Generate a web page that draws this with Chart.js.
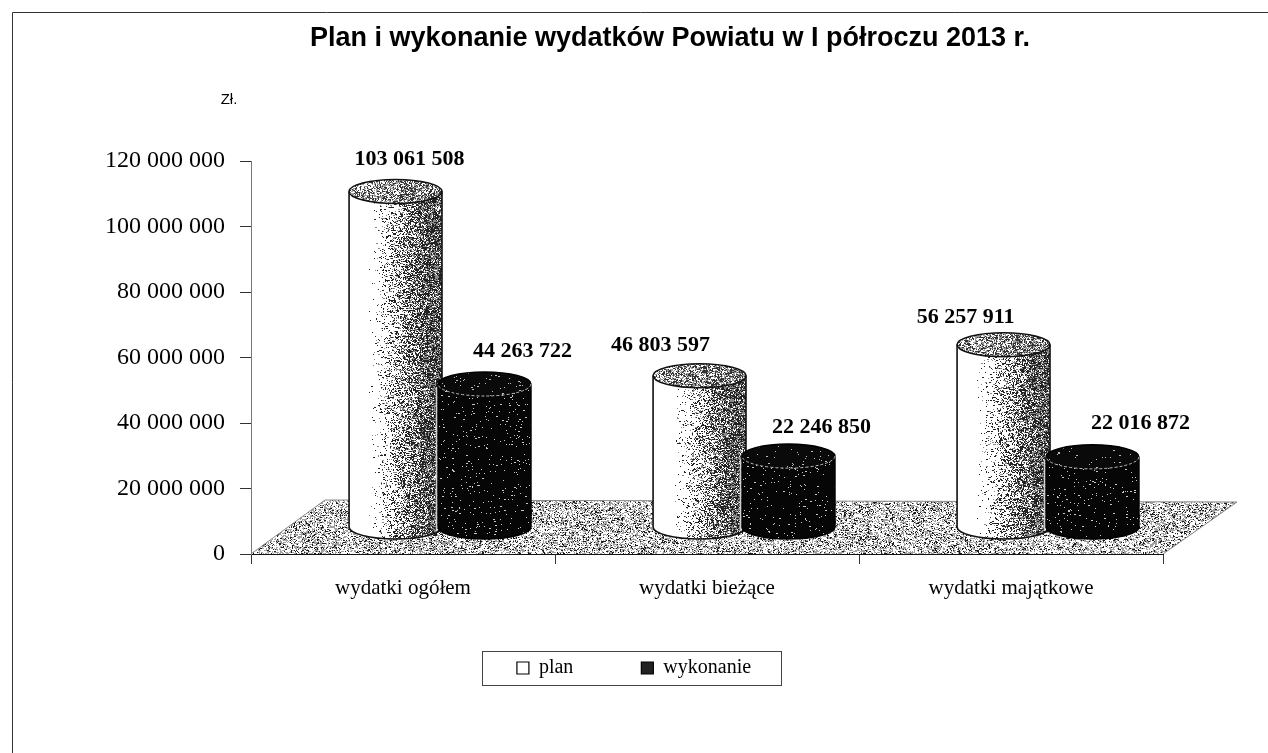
<!DOCTYPE html>
<html lang="pl">
<head>
    <meta charset="UTF-8">
    <title>Plan i wykonanie wydatków Powiatu w I półroczu 2013 r.</title>
    <script src="https://cdn.jsdelivr.net/npm/chart.js@4"></script>
    <style>
        html, body { margin: 0; padding: 0; background: #fff; overflow: hidden; }
        canvas { display: block; }
    </style>
</head>
<body>
    <canvas id="myChart" width="1268" height="753"></canvas>

    <script>
        const categories = ['wydatki ogółem', 'wydatki bieżące', 'wydatki majątkowe'];
        const planValues = [103061508, 46803597, 56257911];
        const wykonanieValues = [44263722, 22246850, 22016872];
        const seriesNames = ['plan', 'wykonanie'];
        const chartTitle = 'Plan i wykonanie wydatków Powiatu w I półroczu 2013 r.';
        const unitLabel = 'Zł.';

        // label nudges, same layout as the original (dx, dy from the top of the cylinder)
        const labelNudge = [
            [[14, -32], [-39, -30], [-38, -27]],
            [[38, -33], [33, -29], [48, -34]]
        ];

        const depthX = 74, depthY = 54;   // floor depth
        const TOP_LIFT = 25;              // how far the cylinder tops sit above the scale value
        const ELLIPSE_RY = 12;

        const fmt = v => String(v).replace(/\B(?=(\d{3})+$)/g, ' ');

        // deterministic speckle
        let seed = 12345;
        function rnd() {
            seed = (seed * 1664525 + 1013904223) >>> 0;
            return seed / 4294967296;
        }

        function stipple(ctx, x0, y0, x1, y1, prob, color) {
            ctx.fillStyle = color;
            for (let y = Math.floor(y0); y < y1; y++) {
                for (let x = Math.floor(x0); x < x1; x++) {
                    if (rnd() < prob(x, y)) {
                        ctx.fillRect(x, y, rnd() < 0.2 ? 2 : 1, 1);
                    }
                }
            }
        }

        function planShade(t) {
            if (t < 0.2) return 0;
            if (t < 0.88) return 0.8 * Math.pow((t - 0.2) / 0.68, 1.5);
            return 0.8 - (t - 0.88) * 0.8;
        }

        function cylinderPath(ctx, cx, rx, top, base) {
            ctx.beginPath();
            ctx.moveTo(cx - rx, top);
            ctx.lineTo(cx - rx, base);
            ctx.ellipse(cx, base, rx, ELLIPSE_RY, 0, Math.PI, 0, true);
            ctx.lineTo(cx + rx, top);
            ctx.ellipse(cx, top, rx, ELLIPSE_RY, 0, 0, Math.PI, true);
            ctx.closePath();
        }

        function drawCylinder(ctx, cx, rx, top, base, dark) {
            ctx.save();
            cylinderPath(ctx, cx, rx, top, base);
            ctx.fillStyle = dark ? '#060606' : '#fff';
            ctx.fill();
            ctx.clip();
            const x0 = cx - rx, w = rx * 2;
            if (dark) {
                stipple(ctx, x0, top - ELLIPSE_RY, cx + rx, base + ELLIPSE_RY, () => 0.025, '#c8c8c8');
            } else {
                stipple(ctx, x0, top, cx + rx, base + ELLIPSE_RY, x => planShade((x - x0) / w), '#222');
                stipple(ctx, x0, top, cx + rx, base + ELLIPSE_RY, x => planShade((x - x0) / w) * 0.4, '#8a8a8a');
            }
            ctx.restore();

            // top face
            ctx.save();
            ctx.beginPath();
            ctx.ellipse(cx, top, rx, ELLIPSE_RY, 0, 0, Math.PI * 2);
            ctx.fillStyle = dark ? '#0a0a0a' : '#fff';
            ctx.fill();
            ctx.clip();
            if (dark) {
                stipple(ctx, x0, top - ELLIPSE_RY, cx + rx, top + ELLIPSE_RY, () => 0.02, '#bbb');
            } else {
                stipple(ctx, x0, top - ELLIPSE_RY, cx + rx, top + ELLIPSE_RY,
                    x => 0.3 + 0.3 * (x - x0) / w, '#333');
                stipple(ctx, x0, top - ELLIPSE_RY, cx + rx, top + ELLIPSE_RY, () => 0.25, '#999');
            }
            ctx.restore();

            // outlines
            ctx.strokeStyle = dark ? '#000' : '#111';
            ctx.lineWidth = 1.6;
            cylinderPath(ctx, cx, rx, top, base);
            ctx.stroke();
            ctx.beginPath();
            ctx.ellipse(cx, top, rx, ELLIPSE_RY, 0, 0, Math.PI);
            if (dark) {
                ctx.strokeStyle = '#bdbdbd';
                ctx.lineWidth = 1;
                ctx.setLineDash([3, 2]);
            }
            ctx.stroke();
            ctx.setLineDash([]);
            if (dark) {
                // light rim against the neighbouring cylinder
                ctx.strokeStyle = '#cfcfcf';
                ctx.lineWidth = 1.5;
                ctx.beginPath();
                ctx.moveTo(cx - rx - 1.5, top + 3);
                ctx.lineTo(cx - rx - 1.5, base + 4);
                ctx.stroke();
            }
        }

        const cylinderPlugin = {
            id: 'cylinders',
            afterLayout(chart) {
                // the title sits right of the page centre
                chart.titleBlock.left += 36;
                chart.titleBlock.right += 36;
                // category labels overlap the legend's tall padding, don't clip them
                chart.scales.x.bottom += 30;
            },
            beforeDatasetsDraw(chart) {
                const ctx = chart.ctx;
                const { left, right, bottom } = chart.chartArea;
                seed = 12345;

                // floor
                ctx.save();
                ctx.beginPath();
                ctx.moveTo(left, bottom);
                ctx.lineTo(left + depthX, bottom - depthY);
                ctx.lineTo(right + depthX, bottom - depthY + 2);
                ctx.lineTo(right, bottom);
                ctx.closePath();
                ctx.clip();
                stipple(ctx, left, bottom - depthY, right + depthX, bottom, () => 0.2, '#1c1c1c');
                stipple(ctx, left, bottom - depthY, right + depthX, bottom, () => 0.3, '#a0a0a0');
                ctx.restore();
                ctx.strokeStyle = '#888';
                ctx.lineWidth = 1;
                ctx.beginPath();
                ctx.moveTo(left, bottom);
                ctx.lineTo(left + depthX, bottom - depthY);
                ctx.lineTo(right + depthX, bottom - depthY + 2);
                ctx.lineTo(right, bottom);
                ctx.stroke();
            },
            afterDatasetsDraw(chart) {
                const ctx = chart.ctx;
                const { bottom } = chart.chartArea;
                const base = bottom - depthY / 2;
                const shiftX = depthX / 2;
                // cylinders, left to right so the dark one overlaps the plan one
                categories.forEach((c, j) => {
                    [0, 1].forEach(i => {
                        const bar = chart.getDatasetMeta(i).data[j];
                        drawCylinder(ctx, bar.x + shiftX, bar.width / 2, bar.y - TOP_LIFT, base, i === 1);
                    });
                });
                // value labels
                ctx.fillStyle = '#000';
                ctx.font = 'bold 22px "Liberation Serif"';
                ctx.textAlign = 'center';
                ctx.textBaseline = 'middle';
                [0, 1].forEach(i => {
                    chart.getDatasetMeta(i).data.forEach((bar, j) => {
                        const v = chart.data.datasets[i].data[j];
                        const n = labelNudge[i][j];
                        ctx.fillText(fmt(v), bar.x + shiftX + n[0], bar.y - TOP_LIFT + n[1]);
                    });
                });
                // unit above the axis
                ctx.font = '15px "Liberation Sans"';
                ctx.fillText(unitLabel, 229, 100);
            },
            afterDraw(chart) {
                const ctx = chart.ctx;
                // page frame, left and top only
                ctx.strokeStyle = '#333';
                ctx.lineWidth = 1;
                ctx.beginPath();
                ctx.moveTo(12.5, chart.height);
                ctx.lineTo(12.5, 12.5);
                ctx.lineTo(chart.width, 12.5);
                ctx.stroke();
                // legend frame
                const boxes = chart.legend.legendHitBoxes;
                const last = boxes[boxes.length - 1];
                const midY = boxes[0].top + boxes[0].height / 2;
                const frameLeft = Math.round(boxes[0].left - 35) + 0.5;
                const frameRight = Math.round(last.left + last.width + 30) + 0.5;
                ctx.strokeStyle = '#444';
                ctx.strokeRect(frameLeft, Math.round(midY - 17) + 0.5, frameRight - frameLeft, 34);
            }
        };

        new Chart(document.getElementById('myChart'), {
            type: 'bar',
            data: {
                labels: categories,
                datasets: [
                    { label: seriesNames[0], data: planValues, backgroundColor: 'rgba(0,0,0,0)' },
                    { label: seriesNames[1], data: wykonanieValues, backgroundColor: 'rgba(0,0,0,0)' }
                ]
            },
            options: {
                responsive: false,
                animation: false,
                categoryPercentage: 0.585,
                barPercentage: 1.045,
                layout: { padding: { left: 105, right: 105, top: 0, bottom: 65 } },
                plugins: {
                    tooltip: { enabled: false },
                    title: {
                        display: true,
                        text: chartTitle,
                        color: '#000',
                        font: { family: '"Liberation Sans"', size: 27, weight: 'bold' },
                        padding: { top: 22, bottom: 106.6 }
                    },
                    legend: {
                        position: 'bottom',
                        labels: {
                            color: '#000',
                            font: { family: '"Liberation Serif"', size: 20 },
                            boxWidth: 12,
                            boxHeight: 12,
                            padding: 68,
                            generateLabels: () => [
                                { text: seriesNames[0], fillStyle: '#fff', strokeStyle: '#000', lineWidth: 1.2, datasetIndex: 0 },
                                { text: seriesNames[1], fillStyle: '#222', strokeStyle: '#000', lineWidth: 1.2, datasetIndex: 1 }
                            ]
                        }
                    }
                },
                scales: {
                    x: {
                        grid: { drawOnChartArea: false, tickLength: 10, color: '#333', offset: true },
                        border: { color: '#111', width: 1 },
                        ticks: {
                            color: '#000',
                            padding: 12,
                            maxRotation: 0,
                            font: { family: '"Liberation Serif"', size: 21 }
                        },
                        afterFit: scale => { scale.height = 36; }
                    },
                    y: {
                        min: 0,
                        max: 120000000,
                        grid: { drawOnChartArea: false, tickLength: 11, color: '#333' },
                        border: { color: '#777', width: 1 },
                        ticks: {
                            stepSize: 20000000,
                            color: '#000',
                            padding: 15,
                            font: { family: '"Liberation Serif"', size: 24 },
                            callback: v => fmt(v)
                        },
                        afterFit: scale => { scale.width = 146; }
                    }
                }
            },
            plugins: [cylinderPlugin]
        });
    </script>
</body>
</html>
